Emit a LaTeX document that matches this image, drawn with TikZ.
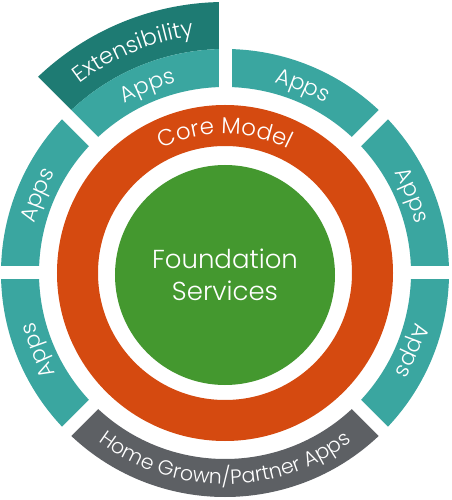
\documentclass[tikz,border=0pt]{standalone}
\usepackage{fontspec}
\setmainfont{Poppins}[UprightFont={* Light}]
\usetikzlibrary{decorations.text}
\definecolor{appteal}{HTML}{3AA6A0}
\definecolor{extteal}{HTML}{1E7B73}
\definecolor{coreorange}{HTML}{D54A10}
\definecolor{foundgreen}{HTML}{44982F}
\definecolor{homegrey}{HTML}{5D6064}
\newcommand\ringsector[5]{%
  \fill[#5] (#1:#3) arc[start angle=#1, end angle=#2, radius=#3] -- (#2:#4)
    arc[start angle=#2, end angle=#1, radius=#4] -- cycle;}
\newcommand\appsfont{\fontsize{22}{22}\selectfont\color{white}}
\newcommand\bandfont{\fontsize{22.5}{22.5}\selectfont\color{white}}
\newcommand\corefont{\fontsize{23}{23}\selectfont\color{white}}
\newcommand\homefont{\fontsize{20.5}{20.5}\selectfont\color{white}}
\tikzset{
  gapline/.style={white, line width=13pt},
  arctext/.style={decorate, decoration={text along path, text align=center, text={#1}}}
}
\begin{document}
\begin{tikzpicture}[x=1pt,y=1pt]
\useasboundingbox (-225,-227) rectangle (226,273);
\fill[white] (-225,-227) rectangle (226,273);
% outer ring sectors
\ringsector{90}{135}{224}{271}{extteal}
\ringsector{90}{135}{186}{224}{appteal}
\ringsector{45}{90}{186}{224}{appteal}
\ringsector{0}{45}{186}{224}{appteal}
\ringsector{-45}{0}{186}{224}{appteal}
\ringsector{-135}{-45}{186}{224}{homegrey}
\ringsector{-180}{-135}{186}{224}{appteal}
\ringsector{135}{180}{186}{224}{appteal}
% gaps
\foreach \a in {0,45,90,135,180,225,315}
  \draw[gapline] (\a:178) -- (\a:285);
% core ring
\fill[coreorange, even odd rule] (0,0) circle[radius=168] (0,0) circle[radius=127];
% foundation
\node[circle, fill=foundgreen, minimum size=220pt, inner sep=0pt, text=white,
  align=center, font=\fontsize{26}{32}\selectfont] (found) at (0,-2) {Foundation\\Services};
% texts along arcs
\path[arctext={|\bandfont|Extensibility}] (135:239) arc[start angle=135, end angle=90, radius=239];
\path[arctext={|\appsfont|Apps}] (135:197) arc[start angle=135, end angle=90, radius=197];
\path[arctext={|\appsfont|Apps}] (90:197) arc[start angle=90, end angle=45, radius=197];
\path[arctext={|\appsfont|Apps}] (45:197) arc[start angle=45, end angle=0, radius=197];
\path[arctext={|\appsfont|Apps}] (0:197) arc[start angle=0, end angle=-45, radius=197];
\path[arctext={|\appsfont|Apps}] (-135:197) arc[start angle=-135, end angle=-180, radius=197];
\path[arctext={|\appsfont|Apps}] (180:197) arc[start angle=180, end angle=135, radius=197];
\path[arctext={|\homefont|Home Grown/Partner Apps}] (-135:211) arc[start angle=-135, end angle=-45, radius=211];
\path[arctext={|\corefont|Core Model}] (125:139) arc[start angle=125, end angle=55, radius=139];
\end{tikzpicture}
\end{document}
